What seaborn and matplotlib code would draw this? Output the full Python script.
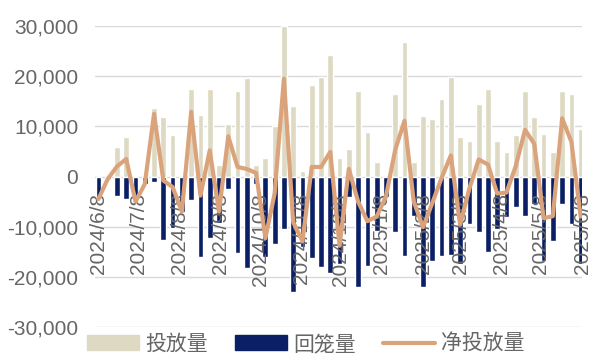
import pandas as pd
import numpy as np
import matplotlib
matplotlib.use("Agg")
import matplotlib.pyplot as plt
import seaborn as sns
from matplotlib.patches import Patch
from matplotlib.lines import Line2D
from matplotlib.ticker import FuncFormatter

# Weekly open market operations (100 million yuan)
start = "2024-06-08"
weeks = pd.date_range(start, periods=53, freq="7D")

release = [0, 0, 5800, 7900, 0, 0, 13600, 11900, 8200, 0,
           17500, 12200, 17500, 2200, 10400, 17100, 19700, 2200, 3700, 10000,
           30000, 14000, 1100, 18200, 19900, 24200, 3700, 5500, 17100, 8900,
           2900, 0, 16400, 26900, 2900, 12000, 11500, 15500, 19900, 7900,
           7100, 14500, 17500, 7100, 4900, 8200, 17100, 11900, 8500, 4900,
           17100, 16400, 9500]

withdraw = [-4500, -500, -3800, -4400, -5000, -1500, -1100, -12700, -10300, -7000,
            -4600, -16000, -12300, -9200, -2400, -15200, -18200, -1500, -16000, -13400,
            -10500, -23100, -14000, -16300, -18000, -19300, -17500, -4000, -22100, -17800,
            -10900, -4000, -11100, -15800, -7900, -22100, -16800, -15800, -15700, -17500,
            -9500, -11100, -15100, -10500, -8100, -6100, -7800, -5400, -16800, -12800,
            -5500, -9500, -17500]

net = [-4500, -500, 2000, 3500, -5000, -1500, 12500, -800, -2100, -7000,
       12900, -3800, 5200, -7000, 8000, 1900, 1500, 700, -12300, -3400,
       19500, -9100, -12900, 1900, 1900, 4900, -13800, 1500, -5000, -8900,
       -8000, -4000, 5300, 11100, -5000, -10100, -5300, -300, 4200, -9600,
       -2400, 3400, 2400, -3400, -3200, 2100, 9300, 6500, -8300, -7900,
       11600, 6900, -8000]

tick_labels = ["2024/6/8", "2024/7/8", "2024/8/8", "2024/9/8", "2024/10/8",
               "2024/11/8", "2024/12/8", "2025/1/8", "2025/2/8", "2025/3/8",
               "2025/4/8", "2025/5/8", "2025/6/8"]

df = pd.DataFrame({"pos": np.arange(len(weeks)), "release": release,
                   "withdraw": withdraw, "net": net})

c_rel = "#DDD9C3"
c_wd = "#0A1F66"
c_net = "#DBA37C"
c_txt = "#666666"

sns.set_style("white")
plt.rcParams["font.family"] = ["Liberation Sans", "Noto Sans CJK SC", "DejaVu Sans"]

fig = plt.figure(figsize=(5.94, 3.63), dpi=100)
ax = fig.add_axes([95 / 594, 1 - 327 / 363, 487 / 594, 301 / 363])

sns.barplot(data=df, x="pos", y="release", native_scale=True, width=0.62,
            color=c_rel, saturation=1, errorbar=None, ax=ax)
sns.barplot(data=df, x="pos", y="withdraw", native_scale=True, width=0.62,
            color=c_wd, saturation=1, errorbar=None, ax=ax)
sns.lineplot(data=df, x="pos", y="net", color=c_net, linewidth=3, ax=ax, zorder=3)

# spines first (moving a spine resets the ticks)
for s in ax.spines.values():
    s.set_visible(False)
ax.spines["bottom"].set_position(("data", 0))

# axes, ticks and grid
ax.set_xlim(-0.37, 52.1)
ax.set_ylim(-30000, 30000)
ax.set_yticks(np.arange(-30000, 30001, 10000))
ax.yaxis.set_major_formatter(FuncFormatter(lambda v, p: f"{v:,.0f}"))
tick_pos = [(pd.Timestamp(t.replace("/", "-")) - pd.Timestamp(start)).days / 7
            for t in tick_labels]
ax.set_xticks(tick_pos)
ax.set_xticklabels(tick_labels)
ax.set_xlabel("")
ax.set_ylabel("")
ax.tick_params(axis="y", length=0, pad=12, labelsize=15, labelcolor=c_txt)
ax.tick_params(axis="x", length=0, pad=12, labelsize=15, labelcolor=c_txt,
               labelrotation=90)
ax.yaxis.grid(True, color="#D9D9D9", linewidth=1)
ax.xaxis.grid(False)
ax.yaxis.set_zorder(0.5)
ax.xaxis.set_zorder(1.5)

# legend under the chart
handles = [Patch(color=c_rel), Patch(color=c_wd), Line2D([], [], color=c_net, linewidth=3)]
fig.legend(handles, ["投放量", "回笼量", "净投放量"], loc="center", ncol=3,
           bbox_to_anchor=(306 / 594, 1 - 344 / 363), frameon=False,
           prop={"family": ["Noto Sans CJK SC"], "size": 15}, labelcolor=c_txt,
           handlelength=2.5, handletextpad=0.3, columnspacing=1.3)

fig.savefig("out.png", dpi=100)
